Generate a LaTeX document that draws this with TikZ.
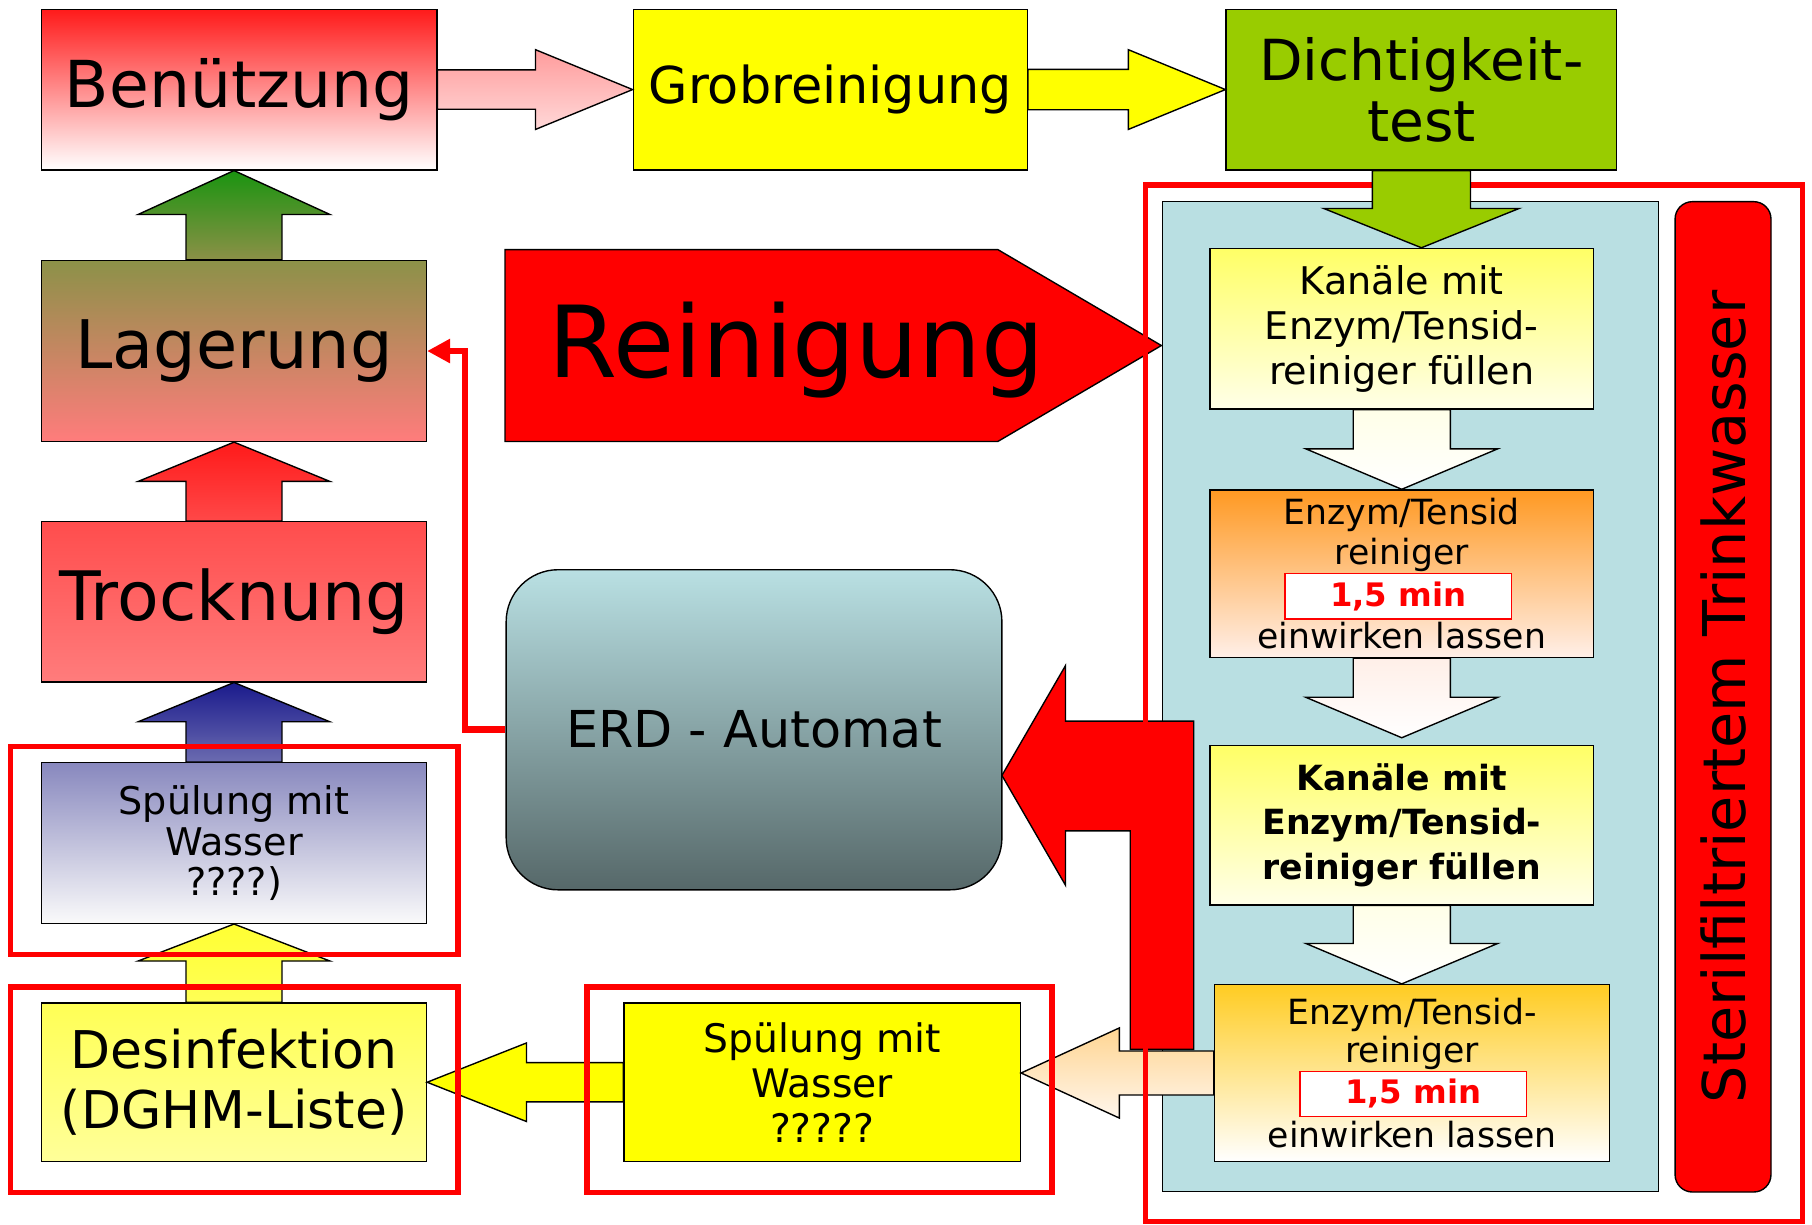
\documentclass[tikz,border=0pt]{standalone}
\usepackage{fontspec}
\setmainfont{DejaVu Sans}
\usetikzlibrary{calc,arrows.meta}

\definecolor{benTop}{HTML}{FF1A1A}
\definecolor{pinkTop}{HTML}{FF9C9C}
\definecolor{pinkBot}{HTML}{FFD8D8}
\definecolor{grobYel}{HTML}{FFFF00}
\definecolor{dichtGrn}{HTML}{99CC00}
\definecolor{panelBlue}{HTML}{B9DFE2}
\definecolor{kanTop}{HTML}{FFFF66}
\definecolor{kanBot}{HTML}{FFFFE8}
\definecolor{enzTop}{HTML}{FF9922}
\definecolor{enzBot}{HTML}{FFEFE8}
\definecolor{enzbTop}{HTML}{FFCC22}
\definecolor{oraTop}{HTML}{FFD592}
\definecolor{oraBot}{HTML}{FFF6EC}
\definecolor{erdTop}{HTML}{B9E0E3}
\definecolor{erdBot}{HTML}{566869}
\definecolor{lagTop}{HTML}{8C9148}
\definecolor{lagMid}{HTML}{E0856F}
\definecolor{lagBot}{HTML}{FF7C7C}
\definecolor{grnTop}{HTML}{1A9410}
\definecolor{grnBot}{HTML}{8C9047}
\definecolor{redTop}{HTML}{FF1A1A}
\definecolor{redBot}{HTML}{FF4848}
\definecolor{troTop}{HTML}{FF4D4D}
\definecolor{troBot}{HTML}{FF7C7C}
\definecolor{bluTop}{HTML}{1A1A8C}
\definecolor{bluBot}{HTML}{6B6BB0}
\definecolor{spuTop}{HTML}{8888BE}
\definecolor{spuBot}{HTML}{FAFAFA}
\definecolor{yelTop}{HTML}{FFFF33}
\definecolor{yelBot}{HTML}{FFFF55}
\definecolor{desTop}{HTML}{FFFF55}
\definecolor{desBot}{HTML}{FFFF99}

% block arrows: [style](tip)(tail)(half shaft:half head:head length)
\def\varrow[#1](#2)(#3)(#4:#5:#6){\draw[#1] (#2) -- ($(#2)+(#5,#6)$) -- ($(#2)+(#4,#6)$) -- ($(#3)+(#4,0)$) -- ($(#3)+(-#4,0)$) -- ($(#2)+(-#4,#6)$) -- ($(#2)+(-#5,#6)$) -- cycle;}
\def\harrow[#1](#2)(#3)(#4:#5:#6){\draw[#1] (#2) -- ($(#2)+(#6,#5)$) -- ($(#2)+(#6,#4)$) -- ($(#3)+(0,#4)$) -- ($(#3)+(0,-#4)$) -- ($(#2)+(#6,-#4)$) -- ($(#2)+(#6,-#5)$) -- cycle;}

\tikzset{
  procbox/.style={draw, line width=1.2pt, inner sep=0pt, align=center},
  blk/.style={draw, line width=1.2pt},
  redframe/.style={draw=red, line width=5pt},
  minbox/.style={draw=red, fill=white, line width=1.2pt, inner sep=0pt, minimum width=196pt, minimum height=39pt, text=red, font=\fontsize{28}{30}\selectfont\bfseries},
}

\begin{document}
\begin{tikzpicture}[x=1pt,y=-1pt]
			%%%%% START %%%%%
			\useasboundingbox (0,0) rectangle (1568,1060);
			
			\node[procbox, top color=benTop, bottom color=white, minimum width=342pt, minimum height=139pt, font=\fontsize{56}{60}\selectfont] (ben) at (207,77.5) {Benützung};
			\node[procbox, fill=grobYel, minimum width=341pt, minimum height=139pt, font=\fontsize{44}{48}\selectfont] (grob) at (718.5,77.5) {Grobreinigung};
			\node[procbox, fill=dichtGrn, minimum width=338pt, minimum height=139pt, font=\fontsize{49}{53}\selectfont] (dicht) at (1230,77.5) {Dichtigkeit-\\test};
			
			\harrow[blk, top color=pinkTop, bottom color=pinkBot](grob.west)(ben.east)(17:34.5:-84)
			\harrow[blk, fill=grobYel](dicht.west)(grob.east)(17.5:34.5:-84)
			
			\node[draw, line width=1.2pt, fill=red, rounded corners=15pt, rotate=90, minimum width=857pt, minimum height=83pt, font=\fontsize{51}{55}\selectfont] (steril) at (1491,603) {Sterilfiltriertem Trinkwasser};
			
			\draw[line width=1.2pt, fill=panelBlue] (1006,174.5) rectangle (1435,1031);
			
			\node[procbox, top color=kanTop, bottom color=kanBot, minimum width=332pt, minimum height=139pt, font=\fontsize{33}{39}\selectfont] (kan1) at (1213,284.5) {Kanäle mit\\Enzym/Tensid-\\reiniger füllen};
			\node[procbox, top color=enzTop, bottom color=enzBot, minimum width=332pt, minimum height=145pt, font=\fontsize{30}{34}\selectfont] (enz1) at (1213,496.5) {Enzym/Tensid\\reiniger\\[39pt]einwirken lassen};
			\node[minbox] (min1) at (1210,516) {1,5 min};
			\node[procbox, top color=kanTop, bottom color=kanBot, minimum width=332pt, minimum height=138pt, font=\fontsize{30}{38.5}\selectfont\bfseries] (kan2) at (1213,714) {Kanäle mit\\Enzym/Tensid-\\reiniger füllen};
			\node[procbox, top color=enzbTop, bottom color=white, minimum width=342pt, minimum height=153pt, font=\fontsize{30}{33}\selectfont] (enz2) at (1222,928.5) {Enzym/Tensid-\\reiniger\\[40pt]einwirken lassen};
			\node[minbox] (min2) at (1223,946.5) {1,5 min};
			
			\coordinate (a2tip) at ($(kan2.north)+(0,-6)$);
			\varrow[blk, top color=kanBot, bottom color=white](enz1.north)(kan1.south)(42:83:-35)
			\varrow[blk, top color=enzBot, bottom color=white](a2tip)(enz1.south)(42:83:-35)
			\varrow[blk, top color=kanBot, bottom color=white](kan2.south |- enz2.north)(kan2.south)(42:83:-35)
			
			\node[procbox, fill=grobYel, minimum width=343pt, minimum height=137pt, font=\fontsize{34}{39}\selectfont] (spu2) at (711.5,936.5) {Spülung mit\\Wasser\\?????};
			\harrow[blk, top color=oraTop, bottom color=oraBot](spu2.east |- enz2.west)(enz2.west)(19:39:85)
			
			\draw[blk, fill=red] (867,671) -- (922,576) -- (922,624) -- (1033,624) -- (1033,908) -- (978,908) -- (978,719) -- (922,719) -- (922,766) -- cycle;
			
			\node[procbox, rounded corners=45pt, top color=erdTop, bottom color=erdBot, minimum width=429pt, minimum height=277pt, font=\fontsize{44}{48}\selectfont] (erd) at (652.5,631.5) {ERD - Automat};
			
			\node[procbox, top color=lagTop, middle color=lagMid, bottom color=lagBot, minimum width=333pt, minimum height=156.5pt, font=\fontsize{58}{62}\selectfont] (lager) at (202.5,303.75) {Lagerung};
			\node[procbox, top color=troTop, bottom color=troBot, minimum width=333pt, minimum height=138.5pt, font=\fontsize{59}{63}\selectfont] (tro) at (202.5,520.75) {Trocknung};
			\node[procbox, top color=spuTop, bottom color=spuBot, minimum width=333pt, minimum height=139pt, font=\fontsize{33}{35}\selectfont] (spu1) at (202.5,729.5) {Spülung mit\\Wasser\\????)};
			\node[procbox, top color=desTop, bottom color=desBot, minimum width=333pt, minimum height=137pt, font=\fontsize{45}{52}\selectfont] (des) at (202.5,936.5) {Desinfektion\\(DGHM-Liste)};
			
			\draw[red, line width=6pt, -{Triangle[length=20pt,width=20pt]}] (erd.west) -- ++(-35,0) |- (lager.east);
			
			\varrow[blk, top color=grnTop, bottom color=grnBot](lager.north |- ben.south)(lager.north)(41.5:83:38)
			\varrow[blk, top color=redTop, bottom color=redBot](lager.south)(tro.north)(41.5:83:34)
			\varrow[blk, top color=bluTop, bottom color=bluBot](tro.south)(spu1.north)(41.5:83:34)
			\varrow[blk, top color=yelTop, bottom color=yelBot](spu1.south)(des.north)(41.5:83:32)
			\harrow[blk, fill=grobYel](des.east)(spu2.west)(17:34:86)
			
			\draw[blk, fill=red] (437,216) -- (863.5,216) -- (1005,299) -- (863.5,382) -- (437,382) -- cycle;
			\node[anchor=base, inner sep=0pt, font=\fontsize{86}{90}\selectfont] (rein) at (689.5,326.5) {Reinigung};
			
			\draw[red, line width=4.5pt] (991,160) rectangle (1560,1057);
			\draw[redframe] (9,646) rectangle (396,826);
			\draw[redframe] (9,854) rectangle (396,1032);
			\draw[redframe] (508,854) rectangle (910,1032);
			
			\varrow[blk, fill=dichtGrn](dicht.south |- kan1.north)(dicht.south)(42.5:84.5:-34)
			
			%%%%% END %%%%%
\end{tikzpicture}
\end{document}
